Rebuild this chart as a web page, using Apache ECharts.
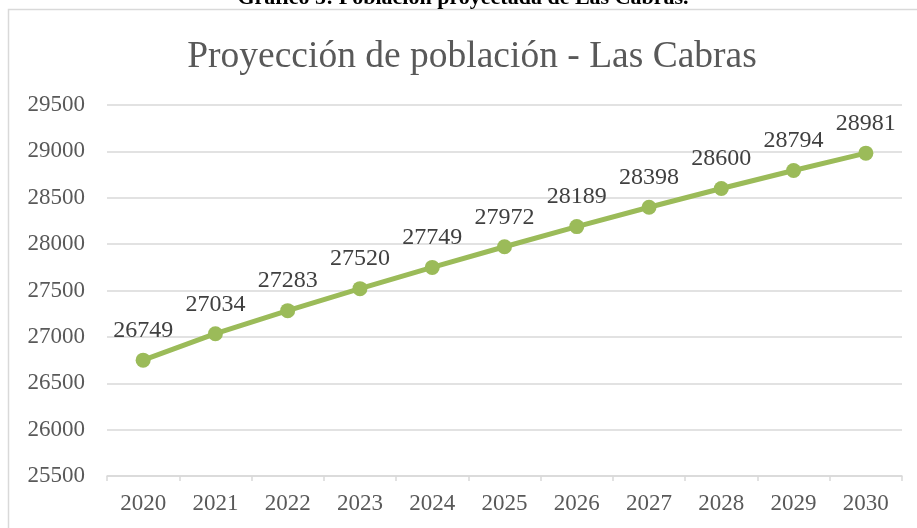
<!DOCTYPE html>
<html>
<head>
<meta charset="utf-8">
<script src="https://cdn.jsdelivr.net/npm/echarts@6/dist/echarts.min.js"></script>
<style>html,body{margin:0;padding:0;background:#fff;}#c{width:917px;height:528px;}</style>
</head>
<body>
<div id="c"></div>
<script>
const years = ['2020','2021','2022','2023','2024','2025','2026','2027','2028','2029','2030'];
const population = [26749, 27034, 27283, 27520, 27749, 27972, 28189, 28398, 28600, 28794, 28981];
const chartTitle = 'Proyección de población - Las Cabras';
const caption = 'Gráfico 5: Población proyectada de Las Cabras.';

const chart = echarts.init(document.getElementById('c'), null, {renderer: 'canvas'});
const serif = '"Liberation Serif", "Times New Roman", serif';
chart.setOption({
  animation: false,
  backgroundColor: '#ffffff',
  title: {
    text: chartTitle,
    left: 467, top: 33,
    textAlign: 'center',
    textStyle: {fontFamily: serif, fontSize: 37.5, fontWeight: 'normal', color: '#595959'}
  },
  graphic: [
    {type: 'rect', shape: {x: 8.5, y: 9.5, width: 920, height: 540}, style: {fill: 'none', stroke: '#d9d9d9', lineWidth: 1.5}, silent: true},
    {type: 'text', x: 463, y: 9, style: {text: caption, font: 'bold 22px ' + serif, fill: '#000', align: 'center', verticalAlign: 'bottom'}}
  ],
  grid: {left: 107, right: 15, top: 105, bottom: 52},
  xAxis: {
    type: 'category',
    data: years,
    boundaryGap: true,
    axisLine: {lineStyle: {color: '#d9d9d9', width: 1.5}},
    axisTick: {show: true, length: 5, lineStyle: {color: '#d9d9d9', width: 1.5}},
    axisLabel: {fontFamily: serif, fontSize: 23, color: '#595959', margin: 16}
  },
  yAxis: {
    type: 'value',
    min: 25500, max: 29500, interval: 500,
    axisLine: {show: false},
    axisTick: {show: false},
    splitLine: {lineStyle: {color: '#d9d9d9', width: 1.5}},
    axisLabel: {fontFamily: serif, fontSize: 23, color: '#595959', margin: 22, formatter: function (v) { return String(v); }}
  },
  series: [{
    type: 'line',
    data: population,
    symbol: 'circle',
    symbolSize: 15,
    lineStyle: {color: '#9bbb59', width: 5},
    itemStyle: {color: '#9bbb59'},
    label: {show: true, position: 'top', distance: 10, fontFamily: serif, fontSize: 24, color: '#404040'}
  }]
});
</script>
</body>
</html>
